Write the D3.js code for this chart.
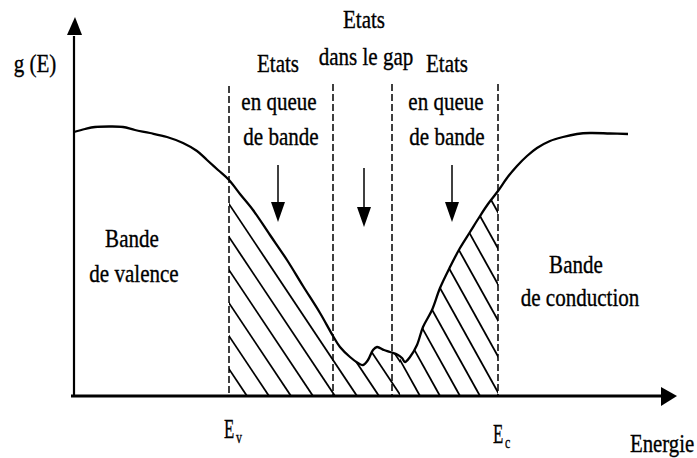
<!DOCTYPE html>
<html><head><meta charset="utf-8">
<script src="https://cdn.jsdelivr.net/npm/d3@7"></script>
<style>html,body{margin:0;padding:0;background:#fff;}svg{display:block;}</style>
</head><body>
<svg id="c" width="697" height="458"></svg>
<script>
// Density of states g(E) (arbitrary units)
const energy  = [0,11,21,36,49,61,76,93,109,123,133,144,155,166,179,196,213,229,246,259,266,276,284,289,294,299,303,310,316,324,328,331,336,343,349,358,366,376,386,396,406,414,424,433,443,453,463,476,489,503,516,536,554];
const density = [264,267,269,269.5,269,266,263,259,253,245,236,226,216,202,186,161,136,110,83,60,49,39,33,31,36,46,49,46,44,41,38,34,39,51,69,86,108,129,148,164,180,192,205,218,230,240,248,255,259,262,263,262.5,262];
// Region boundaries (energy) : Ev, gap start, gap end, Ec
const boundaries = [155, 259, 318, 424];
const boundaryTop = 312;
// Arrows positions (energy)
const arrowEnergies = [204, 290, 378];
// Labels
const tailLabel = ["Etats", "en queue", "de bande"];
const gapLabel = ["Etats", "dans le gap"];
const valenceLabel = ["Bande", "de valence"];
const conductionLabel = ["Bande", "de conduction"];
const tickLabels = [{main: "E", sub: "v"}, {main: "E", sub: "c"}];
const yLabel = "g (E)";
const xLabel = "Energie";

const svg = d3.select("#c");
const x = d3.scaleLinear().domain([0, 602]).range([74, 676]);
const y = d3.scaleLinear().domain([0, 380]).range([396, 16]);
const pts = energy.map((e, i) => [e, density[i]]);

function txt(px, py, s, anchor, size, sx) {
  return svg.append("text")
    .attr("x", 0).attr("y", 0)
    .attr("transform", `translate(${px},${py}) scale(${sx},1)`)
    .attr("text-anchor", anchor)
    .style("font-family", '"Liberation Serif"')
    .style("font-size", size + "px")
    .attr("fill", "#000")
    .attr("stroke", "#000").attr("stroke-width", 0.35)
    .text(s);
}

// clip paths
const defs = svg.append("defs");
defs.append("clipPath").attr("id", "under")
  .append("path")
  .attr("d", d3.area().x(d => x(d[0])).y0(y(0)).y1(d => y(d[1])).curve(d3.curveCatmullRom.alpha(0.5))(pts));
const split = 326;
defs.append("clipPath").attr("id", "leftPart").append("rect")
  .attr("x", x(boundaries[0])).attr("y", 0)
  .attr("width", x(split) - x(boundaries[0])).attr("height", y(0));
defs.append("clipPath").attr("id", "rightPart").append("rect")
  .attr("x", x(split)).attr("y", 0)
  .attr("width", x(boundaries[3]) - x(split)).attr("height", y(0));

// hatching
const hatch = svg.append("g").attr("clip-path", "url(#under)");
const y0 = y(0);
function hatchSet(clipId, start, step, stop, slope) {
  const g = hatch.append("g").attr("clip-path", `url(#${clipId})`);
  g.selectAll("line").data(d3.range(start, stop, step)).join("line")
    .attr("x1", d => d).attr("y1", y0)
    .attr("x2", d => d - y0 / slope).attr("y2", 0)
    .attr("stroke", "#000").attr("stroke-width", 1.8);
}
hatchSet("leftPart", x(boundaries[0]) + 18, 22, x(split) + 150, 1.5);
hatchSet("rightPart", x(split) + 0, 20, x(boundaries[3]) + 140, 1.8);

// dashed boundaries
svg.selectAll("line.dash").data(boundaries).join("line").attr("class", "dash")
  .attr("x1", d => x(d)).attr("x2", d => x(d))
  .attr("y1", (d, i) => i === 0 ? y(boundaryTop) + 2 : y(boundaryTop))
  .attr("y2", y(0))
  .attr("stroke", "#000").attr("stroke-width", 1.5).attr("stroke-dasharray", "7,3");

// curve
svg.append("path")
  .attr("d", d3.line().x(d => x(d[0])).y(d => y(d[1])).curve(d3.curveCatmullRom.alpha(0.5))(pts))
  .attr("fill", "none").attr("stroke", "#000").attr("stroke-width", 2.3);

// axes
svg.append("line").attr("x1", x(0)).attr("x2", x(0)).attr("y1", y(0)).attr("y2", y(360))
  .attr("stroke", "#000").attr("stroke-width", 2.2);
svg.append("path").attr("d", `M${x(0) - 7},${y(361)} L${x(0) + 8},${y(361)} L${x(0) + 1},${y(379)} Z`).attr("fill", "#000");
svg.append("line").attr("x1", x(-3)).attr("x2", x(588)).attr("y1", y(0)).attr("y2", y(0))
  .attr("stroke", "#000").attr("stroke-width", 2.8);
svg.append("path").attr("d", `M${x(587)},${y(0) - 9} L${x(603)},${y(0)} L${x(587)},${y(0) + 10} Z`).attr("fill", "#000");

// arrows
arrowEnergies.forEach((e, i) => {
  const top = i === 1 ? 168 : 165, tip = i === 1 ? 227 : 222;
  svg.append("line").attr("x1", x(e)).attr("x2", x(e)).attr("y1", top).attr("y2", tip - 12)
    .attr("stroke", "#000").attr("stroke-width", 1.5);
  svg.append("path").attr("d", `M${x(e) - 7},${tip - 20} L${x(e) + 7},${tip - 20} L${x(e)},${tip} Z`).attr("fill", "#000");
});

// texts
const FS = 26, SX = 0.81;
txt(35, 72, yLabel, "middle", FS, SX);
[[278, 72], [279, 110], [281, 145]].forEach((p, i) => txt(p[0], p[1], tailLabel[i], "middle", FS, SX));
[[447, 72], [446, 110], [447, 145]].forEach((p, i) => txt(p[0], p[1], tailLabel[i], "middle", FS, SX));
[[364, 28], [366, 65]].forEach((p, i) => txt(p[0], p[1], gapLabel[i], "middle", FS, SX));
[[132, 247], [134, 282]].forEach((p, i) => txt(p[0], p[1], valenceLabel[i], "middle", FS, SX));
[[576, 273], [580, 306]].forEach((p, i) => txt(p[0], p[1], conductionLabel[i], "middle", FS, SX));
// tick labels Ev, Ec
[[boundaries[0], 438], [boundaries[3], 443]].forEach((p, i) => {
  const px = x(p[0]) - 5;
  txt(px, p[1], tickLabels[i].main, "start", 28, 0.6);
  txt(px + 12, p[1] + 5, tickLabels[i].sub, "start", 17, 0.7);
});
txt(630, 452, xLabel, "start", FS, 0.8);
</script>
</body></html>
